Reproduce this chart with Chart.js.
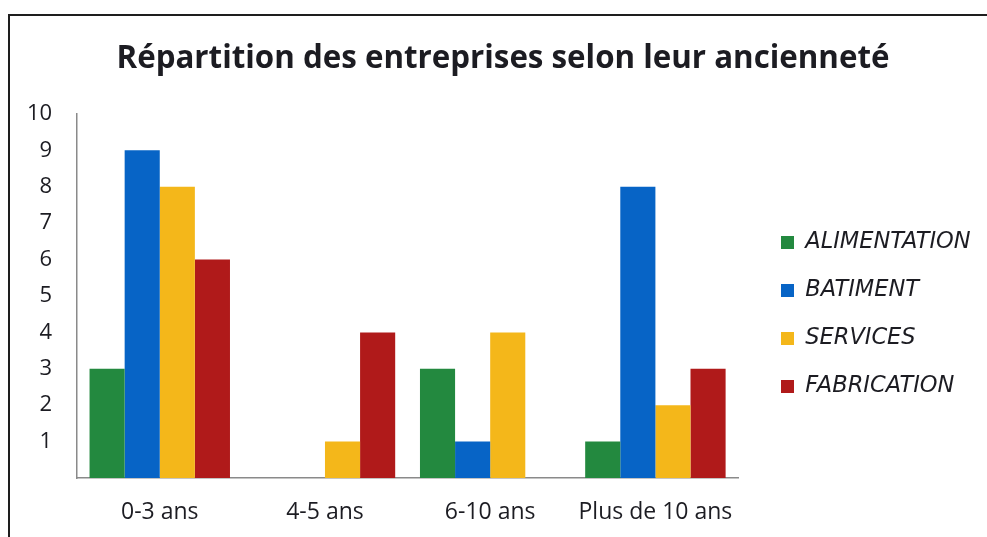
<!DOCTYPE html>
<html>
<head>
<meta charset="utf-8">
<script src="https://cdn.jsdelivr.net/npm/chart.js@4/dist/chart.umd.min.js"></script>
<style>
  html, body { margin: 0; padding: 0; background: #fff; overflow: hidden; width: 987px; height: 537px; }
  #frame { position: absolute; left: 8px; top: 14px; width: 1000px; height: 540px;
           border-left: 2px solid #1e1e1e; border-top: 2px solid #1e1e1e; }
  #wrap { position: absolute; left: 0; top: 0; width: 986px; height: 521px; }
</style>
</head>
<body>
<div id="frame"><div id="wrap"><canvas id="c"></canvas></div></div>
<script>
const categories = ['0-3 ans', '4-5 ans', '6-10 ans', 'Plus de 10 ans'];
const seriesNames = ['ALIMENTATION', 'BATIMENT', 'SERVICES', 'FABRICATION'];
const alimentation = [3, 0, 3, 1];
const batiment = [9, 0, 1, 8];
const services = [8, 1, 4, 2];
const fabrication = [6, 4, 0, 3];
const yTicks = [0, 1, 2, 3, 4, 5, 6, 7, 8, 9, 10];
const colors = ['#23893f', '#0764c6', '#f4b71a', '#b01a1a'];

const FAMILY = "'Open Sans', sans-serif";
const LEG_FAMILY = "'DejaVu Sans', sans-serif";
const LEG_SIZE = 22.5, LEG_PAD = 25.5, LEG_BOX = 13;
const CANVAS_W = 986, PAD_L = -8, PAD_R = -8, PLOT_RIGHT = 728, LEG_BOX_X = 771, LEG_DY = 33.5;

const legendPlace = {
  id: 'legendPlace',
  afterInit(chart) {
    const l = chart.legend;
    if (!l) return;
    const origFit = l.fit;
    l.fit = function () {
      origFit.call(this);
      this.width = (CANVAS_W - PAD_R) - PLOT_RIGHT;
    };
  },
  afterLayout(chart) {
    const l = chart.legend;
    if (!l) return;
    const dx = LEG_BOX_X - (l.left + LEG_PAD);
    l.left += dx; l.right += dx; l.top += LEG_DY; l.bottom += LEG_DY;
  }
};

new Chart(document.getElementById('c'), {
  type: 'bar',
  data: {
    labels: categories,
    datasets: [alimentation, batiment, services, fabrication].map((d, i) => ({
      label: seriesNames[i],
      data: d,
      backgroundColor: colors[i],
      borderWidth: 0,
      barPercentage: 1.0,
      categoryPercentage: 0.85
    }))
  },
  options: {
    responsive: true,
    maintainAspectRatio: false,
    animation: false,
    layout: { padding: { left: PAD_L, right: PAD_R, top: 0, bottom: -9 } },
    plugins: {
      title: {
        display: true,
        text: 'Répartition des entreprises selon leur ancienneté',
        color: '#1c1c22',
        font: { family: FAMILY, size: 31.3, weight: 'bold' },
        padding: { top: 24, bottom: 36.4 }
      },
      legend: {
        position: 'right',
        labels: {
          boxWidth: LEG_BOX,
          boxHeight: LEG_BOX,
          padding: LEG_PAD,
          color: '#1c1c22',
          font: { family: LEG_FAMILY, size: LEG_SIZE, style: 'italic' }
        }
      },
      tooltip: { enabled: false }
    },
    scales: {
      x: {
        grid: { display: false, drawTicks: false },
        border: { display: true, color: '#8a8a8a', width: 1.5 },
        ticks: { color: '#1c1c22', padding: 20.2, font: { family: FAMILY, size: 23 } }
      },
      y: {
        min: yTicks[0],
        max: yTicks[yTicks.length - 1],
        grid: { display: false, drawTicks: false },
        border: { display: true, color: '#8a8a8a', width: 1.5 },
        afterBuildTicks(scale) { scale.ticks = yTicks.map(v => ({ value: v })); },
        ticks: {
          color: '#1c1c22',
          padding: 25,
          font: { family: FAMILY, size: 22 },
          callback: v => (v === 0 ? '' : String(v))
        }
      }
    }
  },
  plugins: [legendPlace]
});
</script>
</body>
</html>
